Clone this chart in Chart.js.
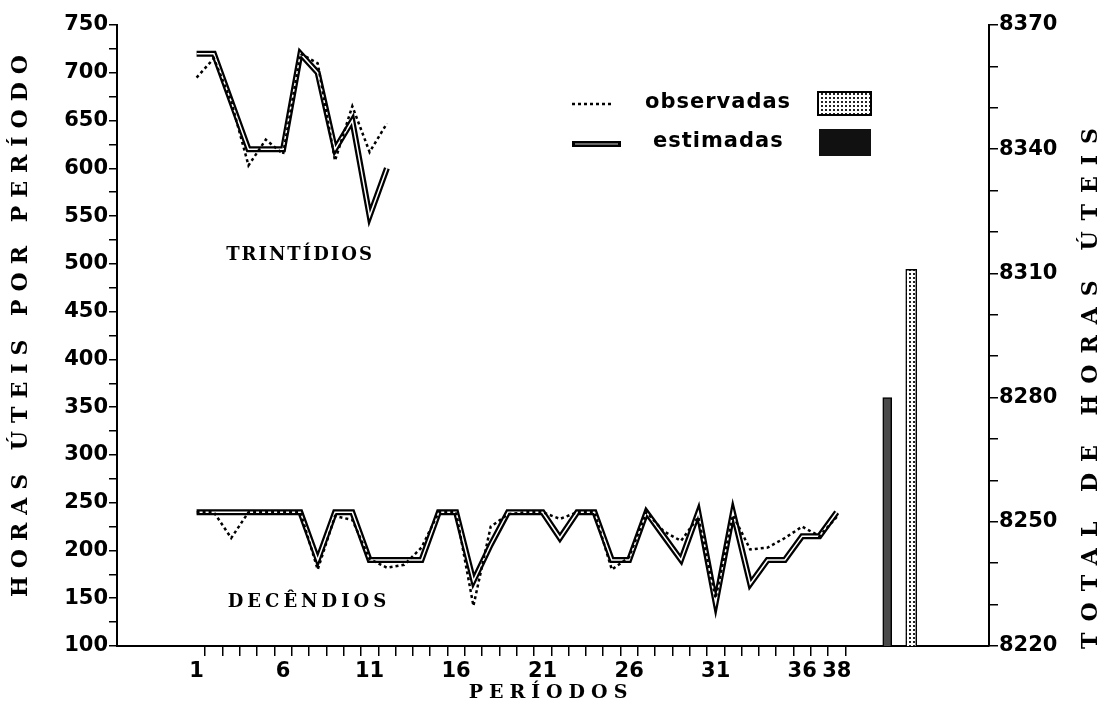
<!DOCTYPE html>
<html lang="pt">
<head>
<meta charset="UTF-8">
<title>Horas úteis por período</title>
<script src="https://cdn.jsdelivr.net/npm/chart.js"></script>
<style>
  html, body { margin: 0; padding: 0; background: #fff; }
  canvas { display: block; }
</style>
</head>
<body>
<canvas id="horasChart" width="1108" height="714"></canvas>
<script>
// tick labels on the period axis
const periodLabels = [1, 6, 11, 16, 21, 26, 31, 36, 38];

// trintídios, periods 1..12
const trintObservadas = [695, 715, 670, 603, 630, 615, 720, 710, 608, 665, 617, 647];
const trintEstimadas  = [720, 720, 670, 620, 620, 620, 720, 700, 620, 650, 550, 600];

// decêndios, periods 1..38
const decObservadas = [240, 240, 213, 240, 240, 240, 240, 180, 236, 232, 191, 182, 185, 203, 240, 240, 142, 225, 238,
                       240, 240, 233, 240, 240, 180, 193, 240, 220, 210, 235, 150, 237, 201, 203, 213, 225, 215, 235];
const decEstimadas  = [240, 240, 240, 240, 240, 240, 240, 190, 240, 240, 190, 190, 190, 190, 240, 240, 168, 206, 240,
                       240, 240, 213, 240, 240, 190, 190, 240, 215, 190, 240, 145, 240, 165, 190, 190, 215, 215, 240];

// annual totals (right axis)
const totalLabels = ['estimadas', 'observadas'];
const totalValues = [8280, 8311];

const periods = decEstimadas.map((_, i) => i + 1);
const toPoints = arr => arr.map((v, i) => ({ x: i + 1, y: v }));

const ctx = document.getElementById('horasChart').getContext('2d');

function stipple() {
    const c = document.createElement('canvas');
    c.width = 4; c.height = 4;
    const g = c.getContext('2d');
    g.fillStyle = '#fff';
    g.fillRect(0, 0, 4, 4);
    g.fillStyle = '#222';
    g.fillRect(1, 1, 2, 2);
    return ctx.createPattern(c, 'repeat');
}
const dots = stipple();

const tickFont = { family: 'DejaVu Sans', weight: 'bold', size: 21 };

// dataset helpers
function dotted(data) {
    return { data: toPoints(data), borderColor: '#000', borderWidth: 2.5, borderDash: [3, 3],
             pointRadius: 0, tension: 0, order: 0, xAxisID: 'x', yAxisID: 'y' };
}
function tube(data, color, width, order) {
    return { data: toPoints(data), borderColor: color, borderWidth: width,
             pointRadius: 0, tension: 0, order: order, xAxisID: 'x', yAxisID: 'y' };
}

// titles, annotations and the legend drawn as canvas text
const textos = {
    id: 'textos',
    afterDraw(chart) {
        const c = chart.ctx;
        c.save();
        c.fillStyle = '#000';
        c.strokeStyle = '#000';
        c.textAlign = 'center';
        c.textBaseline = 'middle';

        c.font = 'bold 22px "DejaVu Serif"';
        c.letterSpacing = '8px';
        c.save(); c.translate(21, 322); c.rotate(-Math.PI / 2);
        c.fillText('HORAS ÚTEIS POR PERÍODO', 0, 0); c.restore();

        c.letterSpacing = '11px';
        c.save(); c.translate(1091, 383); c.rotate(-Math.PI / 2);
        c.fillText('TOTAL DE HORAS ÚTEIS', 0, 0); c.restore();

        c.font = 'bold 19px "DejaVu Serif"';
        c.letterSpacing = '6px';
        c.fillText('PERÍODOS', 551, 693);

        c.font = 'bold 18px "DejaVu Serif"';
        c.letterSpacing = '2px';
        c.fillText('TRINTÍDIOS', 300, 255);
        c.letterSpacing = '4px';
        c.fillText('DECÊNDIOS', 309, 602);

        // legend
        c.letterSpacing = '1px';
        c.font = 'bold 21px "DejaVu Sans"';
        c.textAlign = 'left';
        c.fillText('observadas', 645, 103);
        c.fillText('estimadas', 653, 142);

        c.lineWidth = 2.5;
        c.setLineDash([3, 3]);
        c.beginPath(); c.moveTo(572, 104); c.lineTo(614, 104); c.stroke();
        c.setLineDash([]);
        c.lineWidth = 6;
        c.beginPath(); c.moveTo(572, 144); c.lineTo(621, 144); c.stroke();
        c.strokeStyle = '#888';
        c.lineWidth = 1.5;
        c.beginPath(); c.moveTo(575, 144); c.lineTo(618, 144); c.stroke();

        c.strokeStyle = '#000';
        c.lineWidth = 2;
        c.fillStyle = dots;
        c.fillRect(818, 92, 53, 23);
        c.strokeRect(818, 92, 53, 23);
        c.fillStyle = '#111';
        c.fillRect(819, 129, 52, 27);
        c.restore();
    }
};

new Chart(ctx, {
    type: 'line',
    data: {
        datasets: [
            dotted(trintObservadas),
            tube(trintEstimadas, '#fff', 1.5, 1),
            tube(trintEstimadas, '#000', 6, 2),
            dotted(decObservadas),
            tube(decEstimadas, '#fff', 1.5, 1),
            tube(decEstimadas, '#000', 6, 2),
            {
                type: 'bar', label: totalLabels[0],
                data: [{ x: 0, y: totalValues[0] }],
                backgroundColor: '#4a4a4a', borderColor: '#000', borderWidth: 1.5,
                barThickness: 9, grouped: false, order: 3, xAxisID: 'xt', yAxisID: 'y2'
            },
            {
                type: 'bar', label: totalLabels[1],
                data: [{ x: 1, y: totalValues[1] }],
                backgroundColor: dots, borderColor: '#000', borderWidth: 1.5,
                barThickness: 11, grouped: false, order: 3, xAxisID: 'xt', yAxisID: 'y2'
            }
        ]
    },
    options: {
        responsive: false,
        animation: false,
        layout: { padding: { top: 25, left: 0, right: 0, bottom: 0 } },
        plugins: { legend: { display: false }, tooltip: { enabled: false } },
        scales: {
            x: {
                type: 'linear', position: 'bottom', min: -3.6, max: 46.8,
                afterBuildTicks: s => { s.ticks = periods.map(p => ({ value: p + 0.5 })); },
                afterFit: s => { s.height = 68; },
                ticks: {
                    autoSkip: false, maxRotation: 0, labelOffset: -8.65, padding: 3,
                    color: '#000', font: tickFont,
                    callback: v => periodLabels.includes(v - 0.5) ? String(v - 0.5) : ''
                },
                grid: { drawOnChartArea: false, tickLength: 10, color: '#000', lineWidth: 1.5 },
                border: { color: '#000', width: 2 }
            },
            xt: { type: 'linear', display: false, min: -32.1, max: 4.24, offset: false },
            y: {
                type: 'linear', position: 'left', min: 100, max: 750,
                afterFit: s => { s.width = 117; },
                ticks: {
                    stepSize: 25, autoSkip: false, padding: 1, color: '#000', font: tickFont,
                    callback: v => v % 50 === 0 ? v : ''
                },
                grid: { drawOnChartArea: false, tickLength: 8, color: '#000', lineWidth: 1.5 },
                border: { color: '#000', width: 2 }
            },
            y2: {
                type: 'linear', position: 'right', min: 8220, max: 8370, beginAtZero: false,
                afterFit: s => { s.width = 119; },
                ticks: {
                    stepSize: 10, autoSkip: false, padding: 1, color: '#000', font: tickFont,
                    callback: v => v % 30 === 0 ? v : ''
                },
                grid: { drawOnChartArea: false, tickLength: 9, color: '#000', lineWidth: 1.5 },
                border: { color: '#000', width: 2 }
            }
        }
    },
    plugins: [textos]
});
</script>
</body>
</html>
